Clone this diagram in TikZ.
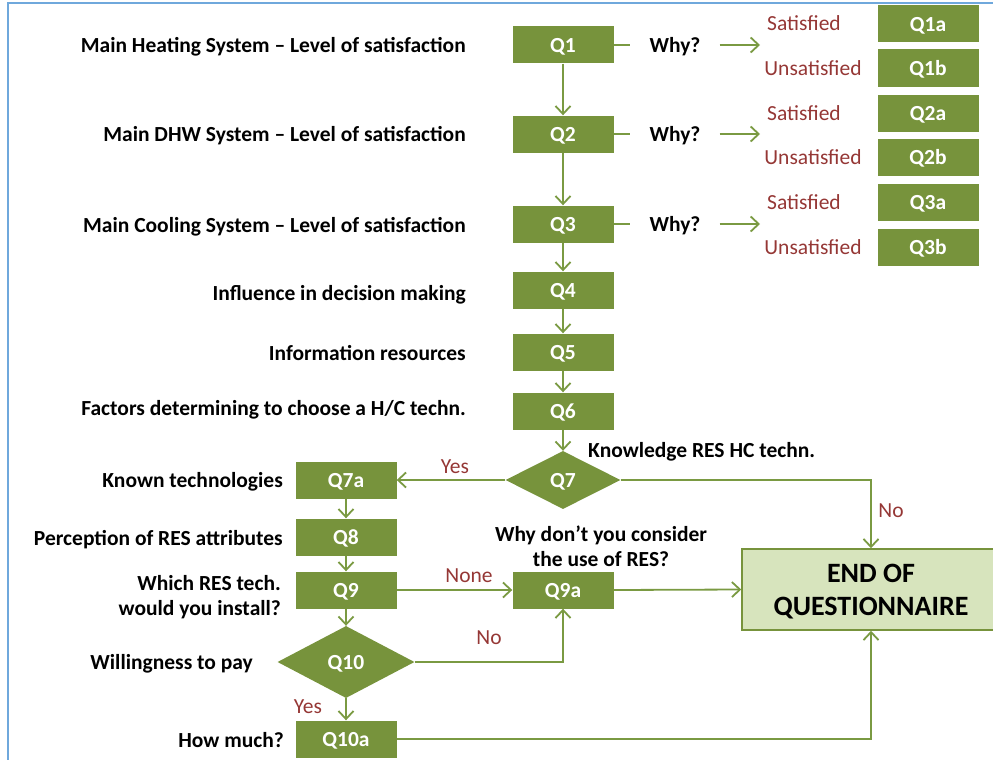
\documentclass[tikz,border=0pt]{standalone}
\usepackage{fontspec}
\setmainfont{Carlito}
\usepackage{xcolor}
\usepackage{tikz}
\usetikzlibrary{shapes.geometric, arrows.meta}
\definecolor{qgreen}{HTML}{77933C}
\definecolor{lgreen}{HTML}{7A9A42}
\definecolor{endfill}{HTML}{D7E4BD}
\definecolor{ansred}{HTML}{953735}
\definecolor{framecol}{HTML}{6FA8DC}
\newcommand{\basefont}{\fontsize{21.5}{25}\selectfont}

\tikzset{
  qbox/.style={rectangle, fill=qgreen, text=white, font=\basefont\bfseries,
    minimum width=101pt, minimum height=37pt, inner sep=0pt, text depth=0pt},
  qdiam/.style={diamond, fill=qgreen, text=white, font=\basefont\bfseries, inner sep=0pt, text depth=0pt},
  lbl/.style={font=\basefont\bfseries, text=black, inner sep=0pt, text depth=0pt},
  ans/.style={font=\basefont, text=ansred, inner sep=0pt, text depth=0pt},
  flow/.style={draw=lgreen, line width=1.8pt, -{Straight Barb[length=8pt,width=15pt,line width=1.8pt]}},
  plain/.style={draw=lgreen, line width=1.8pt}
}

\begin{document}
\begin{tikzpicture}[x=1pt, y=-1pt]
    \useasboundingbox (0,0) rectangle (993,760);
    \clip (0,0) rectangle (993,760);

    % Rahmen
    \draw[framecol, line width=2pt] (8,762) -- (8,3) -- (995,3);

    % Hauptkette
    \node[qbox] (Q1) at (563,45) {Q1};
    \node[qbox] (Q2) at (563,134) {Q2};
    \node[qbox] (Q3) at (563,224) {Q3};
    \node[qbox] (Q4) at (563,290) {Q4};
    \node[qbox] (Q5) at (563,352) {Q5};
    \node[qbox] (Q6) at (563,411) {Q6};
    \node[qdiam, minimum width=115pt, minimum height=58pt] (Q7) at (563,480) {Q7};
    \node[qbox] (Q7a) at (346,480) {Q7a};
    \node[qbox] (Q8) at (346,537) {Q8};
    \node[qbox] (Q9) at (346,590) {Q9};
    \node[qdiam, minimum width=137pt, minimum height=72pt] (Q10) at (346,662) {Q10};
    \node[qbox] (Q10a) at (346,739) {Q10a};
    \node[qbox] (Q9a) at (563,590) {Q9a};
    \node[rectangle, draw=qgreen, line width=1.5pt, fill=endfill, font=\fontsize{28}{33}\selectfont\bfseries,
      align=center, minimum width=258pt, minimum height=81pt, inner sep=0pt, text depth=0pt] (END) at (871,589.5)
      {END OF\\QUESTIONNAIRE};

    % Unterfragen
    \node[qbox] (Q1a) at (928,24) {Q1a};
    \node[qbox] (Q1b) at (928,68) {Q1b};
    \node[qbox] (Q2a) at (928,113) {Q2a};
    \node[qbox] (Q2b) at (928,157) {Q2b};
    \node[qbox] (Q3a) at (928,202) {Q3a};
    \node[qbox] (Q3b) at (928,247) {Q3b};

    % Beschriftungen links
    \node[lbl, anchor=east] (L1) at (466,45) {Main Heating System -- Level of satisfaction};
    \node[lbl, anchor=east] (L2) at (466,134) {Main DHW System -- Level of satisfaction};
    \node[lbl, anchor=east] (L3) at (466,225) {Main Cooling System -- Level of satisfaction};
    \node[lbl, anchor=east] (L4) at (466,293) {Influence in decision making};
    \node[lbl, anchor=east] (L5) at (466,353) {Information resources};
    \node[lbl, anchor=east] (L6) at (466,408) {Factors determining to choose a H/C techn.};
    \node[lbl, anchor=west] (L7) at (588,450) {Knowledge RES HC techn.};
    \node[lbl, anchor=east] (L7a) at (283,480) {Known technologies};
    \node[lbl, anchor=east] (L8) at (283,538) {Perception of RES attributes};
    \node[lbl, anchor=east, align=right] (L9) at (281,595) {Which RES tech.\\would you install?};
    \node[lbl, anchor=east] (L10) at (253,662) {Willingness to pay};
    \node[lbl, anchor=east] (L10a) at (284,740) {How much?};
    \node[lbl, align=center] (L9a) at (601,546) {Why don't you consider\\the use of RES?};

    % Why?
    \foreach \q/\y in {1/45, 2/134, 3/224} {
      \node[lbl, inner xsep=19pt] (why\q) at (675,\y) {Why?};
      \coordinate (wend\q) at (760,\y);
      \draw[plain] (Q\q.east) -- (why\q.west);
      \draw[flow] (why\q.east) -- (wend\q);
    }
    \node[ans] (s1) at (804,23) {Satisfied};
    \node[ans] (u1) at (813,68) {Unsatisfied};
    \node[ans] (s2) at (804,113) {Satisfied};
    \node[ans] (u2) at (813,157) {Unsatisfied};
    \node[ans] (s3) at (804,202) {Satisfied};
    \node[ans] (u3) at (813,247) {Unsatisfied};

    % Pfeile senkrecht
    \draw[flow] (Q1) -- (Q2);
    \draw[flow] (Q2) -- (Q3);
    \draw[flow] (Q3) -- (Q4);
    \draw[flow] (Q4) -- (Q5);
    \draw[flow] (Q5) -- (Q6);
    \draw[flow] (Q6) -- (Q7);
    \draw[flow] (Q7a) -- (Q8);
    \draw[flow] (Q8) -- (Q9);
    \draw[flow] (Q9) -- (Q10);
    \draw[flow] (Q10) -- (Q10a);

    % Verzweigungen
    \draw[flow] (Q7.west) -- (Q7a.east);
    \draw[flow] (Q7.east) -| (END.north);
    \draw[flow] (Q9.east) -- (Q9a.west);
    \draw[flow] (Q10.east) -| (Q9a.south);
    \draw[flow] (Q9a.east) -- (END.west);
    \draw[flow] (Q10a.east) -| (END.south);

    % Antworten
    \node[ans] (yes7) at (455,467) {Yes};
    \node[ans] (no7) at (891,511) {No};
    \node[ans] (none9) at (469,576) {None};
    \node[ans] (no10) at (489,638) {No};
    \node[ans] (yes10) at (308,707) {Yes};
\end{tikzpicture}
\end{document}
